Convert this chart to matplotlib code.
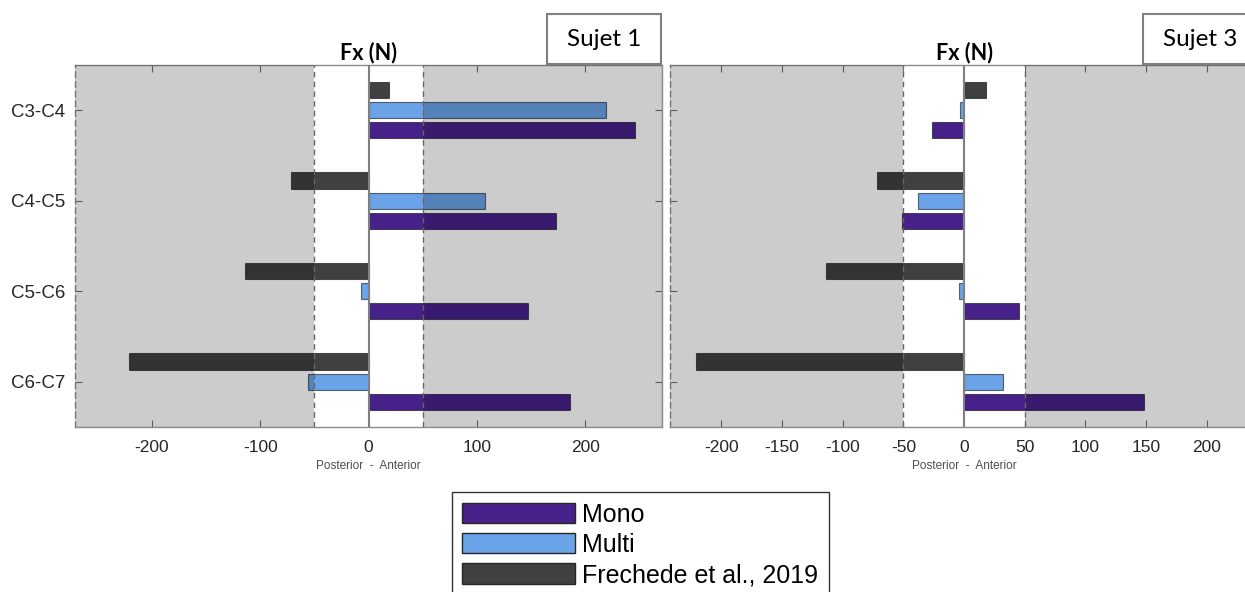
import numpy as np
import matplotlib
matplotlib.use("Agg")
import matplotlib.pyplot as plt
from matplotlib.patches import Patch, Rectangle

# Data
levels = ["C3-C4", "C4-C5", "C5-C6", "C6-C7"]
series = ["Mono", "Multi", "Frechede et al., 2019"]
colors = ["#46218a", "#6aa3e8", "#404040"]

sujet1_mono = [246, 173, 147, 186]
sujet1_multi = [219, 108, -7, -56]
frechede_s1 = [19, -72, -114, -221]

sujet3_mono = [-26, -51, 45, 148]
sujet3_multi = [-3, -38, -4, 32]
frechede_s3 = [18.5, -72, -114, -221]

x_ticks_s1 = [-200, -100, 0, 100, 200]
x_ticks_s3 = [-200, -150, -100, -50, 0, 50, 100, 150, 200]

plt.rcParams["font.family"] = ["Liberation Sans", "DejaVu Sans"]

W, H = 1245, 592
fig = plt.figure(figsize=(W / 100, H / 100), dpi=100)


def px_axes(x0, y0, x1, y1):
    return fig.add_axes([x0 / W, 1 - y1 / H, (x1 - x0) / W, (y1 - y0) / H])


def draw_panel(ax, mono, multi, fre, lim, ticks, show_ylabels):
    y = np.arange(1, len(levels) + 1)
    h = 0.18
    offsets = [0.22, 0.0, -0.225]
    for vals, c, off in zip([mono, multi, fre], colors, offsets):
        ax.barh(y + off, vals, height=h, color=c,
                edgecolor=(0, 0, 0, 0.55), linewidth=0.8, zorder=2)

    # grey zones outside +/-50 N
    for x0, x1 in [(-lim, -50), (50, lim)]:
        ax.add_patch(Rectangle((x0, 0.5), x1 - x0, 4.0,
                               facecolor=(0, 0, 0, 0.2), edgecolor="none", zorder=3))
    for xv in (-50, 50):
        ax.axvline(xv, color="0.4", linestyle=(0, (4, 3)), linewidth=1.0, zorder=4)
    ax.axvline(0, color="0.5", linewidth=1.5, zorder=4)

    ax.set_xlim(-lim, lim)
    ax.set_ylim(4.5, 0.5)
    ax.set_xticks(ticks)
    ax.set_xticklabels([str(t) for t in ticks])
    ax.set_yticks(y)
    ax.set_yticklabels(levels if show_ylabels else [])
    ax.tick_params(axis="both", direction="in", length=5, width=0.8,
                   colors="0.45", labelcolor="#262626",
                   top=True, right=True)
    ax.tick_params(axis="x", pad=9, labelsize=12.5)
    ax.tick_params(axis="y", pad=7, labelsize=13.5)
    for s in ax.spines.values():
        s.set_color("0.55")
        s.set_linewidth(1.0)
    ax.spines["left"].set_linestyle((0, (4, 3)))
    ax.set_title("Fx (N)", fontfamily="Lato", fontweight="bold",
                 fontsize=15.5, pad=4)
    ax.set_xlabel("Posterior  -  Anterior", fontsize=8.5, color="0.3", labelpad=4)


ax1 = px_axes(75, 65, 662, 427)
draw_panel(ax1, sujet1_mono, sujet1_multi, frechede_s1, 271, x_ticks_s1, True)

ax2 = px_axes(670, 65, 1258, 427)
draw_panel(ax2, sujet3_mono, sujet3_multi, frechede_s3, 242.4, x_ticks_s3, False)

# subject boxes
for label, x0 in [("Sujet 1", 547), ("Sujet 3", 1143)]:
    fig.add_artist(Rectangle((x0 / W, 1 - 64 / H), 114 / W, 50 / H,
                             transform=fig.transFigure, facecolor="white",
                             edgecolor="0.5", linewidth=1.5, zorder=5))
    fig.text((x0 + 57) / W, 1 - 40 / H, label, fontfamily="Lato",
             fontsize=17.5, ha="center", va="center", zorder=6)

handles = [Patch(facecolor=c, edgecolor="0.15", linewidth=1.0) for c in colors]
leg = fig.legend(handles, series, loc="upper left",
                 bbox_to_anchor=(452 / W, 1 - 492 / H),
                 fontsize=18, frameon=True, fancybox=False,
                 handlelength=4.5, handleheight=0.88, handletextpad=0.3,
                 labelspacing=0.25, borderpad=0.42, borderaxespad=0)
leg.get_frame().set_edgecolor("black")
leg.get_frame().set_linewidth(1.0)

fig.savefig("out.png", dpi=100)
